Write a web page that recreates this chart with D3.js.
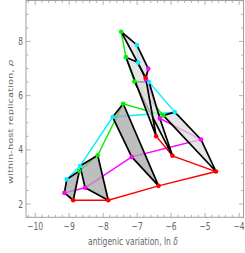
<!DOCTYPE html>
<html><head><meta charset="utf-8">
<script src="https://cdn.jsdelivr.net/npm/d3@7"></script>
<style>body{margin:0;background:#fff}svg{display:block}text{font-family:"DejaVu Sans",sans-serif}</style>
</head><body>
<svg id="c" width="245" height="253"></svg>
<script>
// quads 1..7, corners per colour
const quadIds = [1,2,3,4,5,6,7];
const cyanPts    = [[-9.07,2.91],[-8.68,3.40],[-7.72,5.21],[-5.89,5.39],[-6.65,6.50],[-6.97,7.22],[-7.01,7.87]];
const greenPts   = [[-8.70,3.22],[-8.16,3.80],[-7.41,5.70],[-6.23,5.27],[-7.08,6.52],[-7.33,7.42],[-7.47,8.36]];
const magentaPts = [[-9.14,2.41],[-8.53,2.60],[-7.16,3.74],[-5.12,4.38],[-6.33,5.16],[-6.74,6.60],[-6.67,6.99]];
const redPts     = [[-8.88,2.14],[-7.85,2.14],[-6.37,2.67],[-4.68,3.20],[-5.96,3.78],[-6.44,4.50],[-6.75,6.66]];
const quadShade  = ["dark","dark","dark","light","light","light","light"];
const xTicks = [-10,-9,-8,-7,-6,-5,-4];
const yTicks = [2,4,6,8];

const svg = d3.select("#c");
const L=26, R=243.5, T=0.5, B=217.3;
const x = d3.scaleLinear().domain([-10.27,-3.87]).range([L,R]);
const y = d3.scaleLinear().domain([1.51,9.5]).range([B,T+0.3]);
const SX = 0.76; // horizontal squeeze of glyphs

const plot = svg.append("g");
const line = d3.line().x(d=>x(d[0])).y(d=>y(d[1]));

// coloured curves
const curves = [[cyanPts,"#00f0ff"],[greenPts,"#00ee00"],[magentaPts,"#ff00ff"],[redPts,"#ff0000"]];
curves.forEach(([pts,col])=>{
  plot.append("path").attr("d",line(pts)).attr("fill","none").attr("stroke",col).attr("stroke-width",1.4);
});

// quads
quadIds.forEach((q,i)=>{
  const poly=[greenPts[i],cyanPts[i],magentaPts[i],redPts[i]];
  plot.append("path").attr("d",line(poly)+"Z")
    .attr("fill", quadShade[i]==="dark" ? "#a8a8a8" : "#dcdcdc")
    .attr("fill-opacity",0.75)
    .attr("stroke","#000").attr("stroke-width",1.7).attr("stroke-linejoin","round");
});

// points
curves.forEach(([pts,col])=>{
  plot.selectAll(null).data(pts).enter().append("circle")
    .attr("cx",d=>x(d[0])).attr("cy",d=>y(d[1])).attr("r",2.3).attr("fill",col);
});

// frame
const fc="#a0a0a0";
svg.append("rect").attr("x",L).attr("y",T).attr("width",R-L).attr("height",B-T)
  .attr("fill","none").attr("stroke",fc).attr("stroke-width",1);

// ticks
const xMinor=d3.range(-10.2,-3.87,0.2).filter(v=>Math.abs(v-Math.round(v))>0.01 );
const yMinor=d3.range(1.5,9.51,0.5).filter(v=>Math.abs(v/2-Math.round(v/2))>0.01);
const tk=svg.append("g").attr("stroke",fc).attr("stroke-width",0.8);
xTicks.forEach(v=>{tk.append("line").attr("x1",x(v)).attr("x2",x(v)).attr("y1",B).attr("y2",B-4.5);
  tk.append("line").attr("x1",x(v)).attr("x2",x(v)).attr("y1",T).attr("y2",T+4.5);});
xMinor.forEach(v=>{tk.append("line").attr("x1",x(v)).attr("x2",x(v)).attr("y1",B).attr("y2",B-2.5);
  tk.append("line").attr("x1",x(v)).attr("x2",x(v)).attr("y1",T).attr("y2",T+2.5);});
yTicks.forEach(v=>{tk.append("line").attr("y1",y(v)).attr("y2",y(v)).attr("x1",L).attr("x2",L+4.5);
  tk.append("line").attr("y1",y(v)).attr("y2",y(v)).attr("x1",R).attr("x2",R-4.5);});
yMinor.forEach(v=>{tk.append("line").attr("y1",y(v)).attr("y2",y(v)).attr("x1",L).attr("x2",L+2.5);
  tk.append("line").attr("y1",y(v)).attr("y2",y(v)).attr("x1",R).attr("x2",R-2.5);});

const lc="#666";
svg.selectAll(".xl").data(xTicks).enter().append("text")
  .attr("transform",d=>`translate(${x(d)},229.5) scale(${SX},1)`).attr("text-anchor","middle")
  .attr("font-size",10).attr("fill",lc).text(d=>"\u2212"+Math.abs(d));
svg.selectAll(".yl").data(yTicks).enter().append("text")
  .attr("transform",d=>`translate(23,${y(d)+3.6}) scale(${SX},1)`).attr("text-anchor","end")
  .attr("font-size",10).attr("fill",lc).text(d=>d);

const xt=svg.append("text").attr("transform",`translate(133,245) scale(${SX},1)`).attr("text-anchor","middle")
  .attr("font-size",10).attr("fill",lc);
xt.append("tspan").text("antigenic variation, ln ");
xt.append("tspan").attr("font-style","italic").text("\u03b4");

const yt=svg.append("text").attr("transform",`translate(13,122) scale(${SX},1) rotate(-90)`)
  .attr("text-anchor","middle").attr("font-size",10).attr("fill",lc);
yt.append("tspan").text("within-host replication, ");
yt.append("tspan").attr("font-style","italic").text("\u03c1");
</script>
</body></html>
